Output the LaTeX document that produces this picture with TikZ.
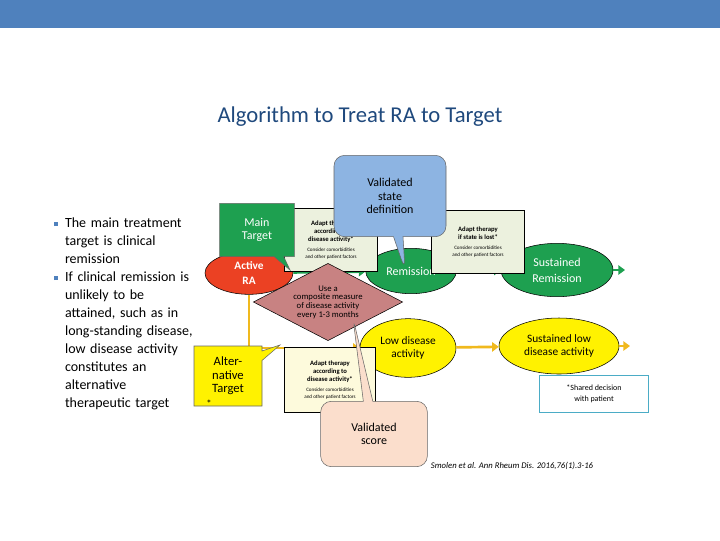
\documentclass[tikz,border=0pt]{standalone}
\usepackage{fontspec}
\setmainfont{Carlito}
\usetikzlibrary{arrows.meta, shapes.geometric, shapes.callouts}
\definecolor{barblue}{RGB}{79,129,189}
\definecolor{titleblue}{RGB}{31,73,125}
\definecolor{rgreen}{RGB}{30,160,80}
\definecolor{ryellow}{RGB}{240,185,30}
\definecolor{rred}{RGB}{235,65,35}
\definecolor{boxgreen}{RGB}{236,241,222}
\definecolor{boxyellow}{RGB}{253,250,220}
\definecolor{diamondfill}{RGB}{200,130,130}
\definecolor{stateblue}{RGB}{141,180,226}
\definecolor{scorepeach}{RGB}{251,222,204}
\definecolor{sharecyan}{RGB}{75,172,198}
\newcommand{\bulletsq}{\textcolor{barblue}{\rule[0.2ex]{3pt}{3pt}}}
\tikzset{
  state/.style={ellipse, draw=black, line width=0.4pt, align=center, inner sep=1pt},
  adapt/.style={draw=black, line width=0.4pt, align=center, font=\fontsize{5}{6}\selectfont, inner sep=2pt},
  flow/.style={line width=2pt, -{Triangle[length=5pt,width=7pt]}},
  note/.style={rectangle callout, draw=black!60, line width=0.4pt, align=center, font=\fontsize{9}{10}\selectfont}
}
\begin{document}
\begin{tikzpicture}[x=0.75pt, y=-0.75pt]
    \useasboundingbox (0,0) rectangle (720,540);
    % Header
    \fill[barblue] (0,0) rectangle (720,28);
    \node[text=titleblue, font=\fontsize{17}{20}\selectfont] (title) at (360,117) {Algorithm to Treat RA to Target};
    % Bullets
    \node[anchor=north west, text width=122pt, font=\fontsize{10.5}{13.5}\selectfont, align=left] (bullets) at (27,194) {%
      \begin{itemize}\setlength{\itemsep}{0pt}\setlength{\parskip}{0pt}\setlength{\leftmargin}{12pt}
      \item[\bulletsq] The main treatment target is clinical remission
      \item[\bulletsq] If clinical remission is unlikely to be attained, such as in long-standing disease, low disease activity constitutes an alternative therapeutic target
      \end{itemize}};
    % Remission path
    \node[state, fill=rred, text=white, font=\bfseries\fontsize{8.5}{11}\selectfont, minimum width=66, minimum height=32] (active) at (249,273) {Active\\RA};
    \node[state, fill=rgreen, text=white, font=\fontsize{9}{11}\selectfont, minimum width=68, minimum height=34] (remission) at (411,271) {Remission};
    \node[state, fill=rgreen, text=white, font=\fontsize{9}{12}\selectfont, minimum width=84, minimum height=40] (sustrem) at (557,270) {Sustained\\Remission};
    \coordinate (remend) at (625,270);
    \draw[flow, rgreen] (active) -- (remission);
    \draw[flow, rgreen] (remission) -- (sustrem);
    \draw[flow, rgreen] (sustrem) -- (remend);
    % Low disease activity path
    \node[state, fill=yellow, font=\fontsize{8.5}{10}\selectfont, minimum width=72, minimum height=44] (lda) at (408,348) {Low disease\\activity};
    \node[state, fill=yellow, font=\fontsize{8.5}{10}\selectfont, minimum width=90, minimum height=42] (sustlda) at (559,346) {Sustained low\\disease activity};
    \coordinate (ldaend) at (630,346);
    \draw[flow, ryellow] (active.south) |- (lda);
    \draw[flow, ryellow] (lda) -- (sustlda);
    \draw[flow, ryellow] (sustlda) -- (ldaend);
    % Adapt boxes
    \node[adapt, fill=boxgreen, minimum width=70, minimum height=47] (adapt1) at (331,240) {\bfseries Adapt therapy\\\bfseries according to\\\bfseries disease activity*\\[2pt]{\fontsize{3.8}{4.5}\selectfont Consider comorbidities}\\[-1pt]{\fontsize{3.8}{4.5}\selectfont and other patient factors}};
    \node[adapt, fill=boxgreen, minimum width=70, minimum height=47] (adapt2) at (478,242) {\bfseries Adapt therapy\\\bfseries if state is lost*\\[2pt]{\fontsize{3.8}{4.5}\selectfont Consider comorbidities}\\[-1pt]{\fontsize{3.8}{4.5}\selectfont and other patient factors}};
    \node[adapt, fill=boxyellow, minimum width=68, minimum height=49] (adapt3) at (330,380) {\bfseries Adapt therapy\\\bfseries according to\\\bfseries disease activity*\\[2pt]{\fontsize{3.8}{4.5}\selectfont Consider comorbidities}\\[-1pt]{\fontsize{3.8}{4.5}\selectfont and other patient factors}};
    % Measure
    \node[diamond, draw=black, fill=diamondfill, aspect=1.9, inner sep=0pt, minimum width=112, minimum height=58, align=center, font=\fontsize{6.5}{6.5}\selectfont] (measure) at (328,302) {Use a\\composite measure\\of disease activity\\every 1-3 months};
    % Callouts
    \node[note, fill=rgreen, text=white, minimum width=56, minimum height=40, callout absolute pointer={(290,270)}] (maintarget) at (257,230) {Main\\Target};
    \node[note, fill=yellow, minimum width=51, minimum height=45, font=\fontsize{9.5}{10}\selectfont, callout absolute pointer={(280,345)}] (alttarget) at (228,376) {Alter-\\native\\Target};
    \node[font=\fontsize{8}{9}\selectfont] (altstar) at (209,404) {*};
    \node[note, fill=stateblue, rounded corners=8pt, minimum width=84, minimum height=61, callout absolute pointer={(405,270)}] (statedef) at (390,196) {Validated\\state\\definition};
    \node[note, fill=scorepeach, rounded corners=8pt, minimum width=80, minimum height=49, callout absolute pointer={(353,318)}] (score) at (374,434) {Validated\\score};
    % Notes
    \node[draw=sharecyan, line width=0.6pt, align=center, minimum width=82, minimum height=28, font=\fontsize{6}{8}\selectfont] (shared) at (594,394) {*Shared decision\\with patient};
    \node[font=\itshape\fontsize{6.5}{8}\selectfont] (cite) at (512,466) {Smolen et al. Ann Rheum Dis. 2016,76(1).3-16};
\end{tikzpicture}
\end{document}
